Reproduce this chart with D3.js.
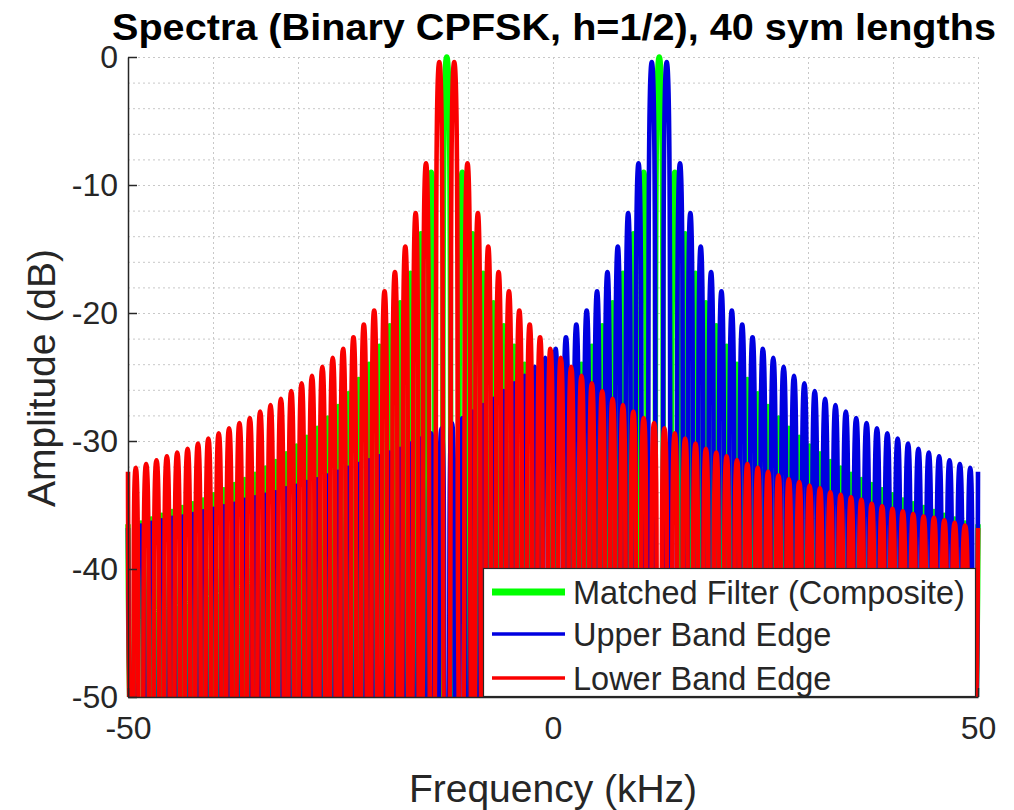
<!DOCTYPE html>
<html><head><meta charset="utf-8">
<script src="https://cdn.jsdelivr.net/npm/d3@7"></script>
<style>
body{margin:0;background:#fff}
text{font-family:"Liberation Sans",Arial,Helvetica,sans-serif}
</style>
</head><body>
<svg id="c" width="1014" height="810"></svg>
<script>
// ---------------- data ----------------
const titleText = "Spectra (Binary CPFSK, h=1/2), 40 sym lengths";
const xLabel = "Frequency (kHz)";
const yLabel = "Amplitude (dB)";
const xTicks = [-50, 0, 50];
const yTicks = [0, -10, -20, -30, -40, -50];
const seriesNames = ["Matched Filter (Composite)", "Upper Band Edge", "Lower Band Edge"];

const lowerTone = -12.5;          // kHz
const upperTone = 12.5;           // kHz
const lobeSpacing = 1.2195;       // kHz between spectral lobes
const nullLevel = -58;            // dB, depth reached between lobes (below the axis)

// Lower band edge (red): lobe positions in lobe units from lowerTone, lobe peak levels (dB)
const redLobes = [-30,-29,-28,-27,-26,-25,-24,-23,-22,-21,-20,-19,-18,-17,-16,-15,-14,-13,-12,-11,-10,-9,-8,-7,-6,-5,-4,-3,-2,
  -0.72,0.72,
  2,3,4,5,6,7,8,9,10,11,12,13,14,15,16,17,18,19,20,21,22,23,24,25,26,27,28,29,30,31,32,33,34,35,36,37,38,39,40,41,42,43,44,45,46,47,48,49,50];
const redPeaks = [-32.1,-31.8,-31.5,-31.2,-30.9,-30.6,-30.2,-29.8,-29.4,-29.0,-28.6,-28.2,-27.7,-27.2,-26.7,-26.1,-25.5,-24.9,-24.2,-23.5,-22.8,-21.9,-20.9,-19.8,-18.3,-16.8,-14.8,-12.2,-8.3,
  -0.4,-0.4,
  -8.3,-12.2,-14.8,-16.8,-18.3,-19.8,-20.9,-21.9,-22.8,-23.5,-24.2,-24.9,-25.5,-26.1,-26.7,-27.2,-27.7,-28.2,-28.6,-29.0,-29.4,-29.8,-30.2,-30.6,-30.9,-31.2,-31.5,-31.8,-32.1,-32.4,-32.7,-33.0,-33.2,-33.5,-33.7,-34.0,-34.2,-34.4,-34.6,-34.9,-35.1,-35.3,-35.5,-35.7,-35.9,-36.0,-36.2,-36.4,-36.6];
const redEdges = [-32.4, -36.8];   // values at -50 and +50 kHz

// Upper band edge (blue): lobe positions in lobe units from upperTone
const blueLobes = [-50,-49,-48,-47,-46,-45,-44,-43,-42,-41,-40,-39,-38,-37,-36,-35,-34,-33,-32,-31,-30,-29,-28,-27,-26,-25,-24,-23,-22,-21,-20,-19,-18,-17,-16,-15,-14,-13,-12,-11,-10,-9,-8,-7,-6,-5,-4,-3,-2,
  -0.72,0.72,
  2,3,4,5,6,7,8,9,10,11,12,13,14,15,16,17,18,19,20,21,22,23,24,25,26,27,28,29,30];
const bluePeaks = [-36.6,-36.4,-36.2,-36.0,-35.9,-35.7,-35.5,-35.3,-35.1,-34.9,-34.6,-34.4,-34.2,-34.0,-33.7,-33.5,-33.2,-33.0,-32.7,-32.4,-32.1,-31.8,-31.5,-31.2,-30.9,-30.6,-30.2,-29.8,-29.4,-29.0,-28.6,-28.2,-27.7,-27.2,-26.7,-26.1,-25.5,-24.9,-24.2,-23.5,-22.8,-21.9,-20.9,-19.8,-18.3,-16.8,-14.8,-12.2,-8.3,
  -0.4,-0.4,
  -8.3,-12.2,-14.8,-16.8,-18.3,-19.8,-20.9,-21.9,-22.8,-23.5,-24.2,-24.9,-25.5,-26.1,-26.7,-27.2,-27.7,-28.2,-28.6,-29.0,-29.4,-29.8,-30.2,-30.6,-30.9,-31.2,-31.5,-31.8,-32.1];
const blueEdges = [-36.8, -32.4];

// Matched filter composite (green): lobes around lowerTone (left half) and upperTone (right half)
const greenLowLobes = [-29.5,-28.5,-27.5,-26.5,-25.5,-24.5,-23.5,-22.5,-21.5,-20.5,-19.5,-18.5,-17.5,-16.5,-15.5,-14.5,-13.5,-12.5,-11.5,-10.5,-9.5,-8.5,-7.5,-6.5,-5.5,-4.5,-3.5,-2.5,-1.5,
  0, 1.5,2.5,3.5,4.5,5.5,6.5,7.5,8.5,9.5];
const greenLowPeaks = [-36.4,-36.1,-35.8,-35.5,-35.2,-34.9,-34.6,-34.2,-33.8,-33.4,-33.0,-32.6,-32.1,-31.6,-31.0,-30.4,-29.7,-29.0,-28.2,-27.3,-26.3,-25.2,-24.0,-22.6,-21.0,-19.2,-16.9,-13.8,-9.0,
  0, -9.0,-13.8,-16.9,-19.2,-21.0,-22.6,-24.0,-25.2,-26.3];
const greenHighLobes = [-9.5,-8.5,-7.5,-6.5,-5.5,-4.5,-3.5,-2.5,-1.5, 0,
  1.5,2.5,3.5,4.5,5.5,6.5,7.5,8.5,9.5,10.5,11.5,12.5,13.5,14.5,15.5,16.5,17.5,18.5,19.5,20.5,21.5,22.5,23.5,24.5,25.5,26.5,27.5,28.5,29.5];
const greenHighPeaks = [-26.3,-25.2,-24.0,-22.6,-21.0,-19.2,-16.9,-13.8,-9.0, 0,
  -9.0,-13.8,-16.9,-19.2,-21.0,-22.6,-24.0,-25.2,-26.3,-27.3,-28.2,-29.0,-29.7,-30.4,-31.0,-31.6,-32.1,-32.6,-33.0,-33.4,-33.8,-34.2,-34.6,-34.9,-35.2,-35.5,-35.8,-36.1,-36.4];
const greenEdges = [-36.5, -36.5];

// ---------------- layout ----------------
const plot = {left: 128, right: 978, top: 57, bottom: 697};
const x = d3.scaleLinear().domain([-50, 50]).range([plot.left, plot.right]);
const y = d3.scaleLinear().domain([-50, 0]).range([plot.bottom, plot.top]);
const svg = d3.select("#c");

// peaks (from the arrays) with a null between each pair of neighbouring lobes
function buildSeries(groups, edges) {
  let pts = [];
  groups.forEach(g => {
    const n = Math.min(g.lobes.length, g.peaks.length);
    for (let i = 0; i < n; i++) {
      const f = g.tone + g.lobes[i] * lobeSpacing;
      if (f > g.from && f < g.to) pts.push({f: f, v: g.peaks[i]});
    }
  });
  pts = pts.filter(p => p.f > -50 && p.f < 50).sort((a, b) => a.f - b.f);
  pts.unshift({f: -50, v: edges[0]});
  pts.push({f: 50, v: edges[1]});
  const out = [];
  for (let i = 0; i < pts.length; i++) {
    out.push(pts[i]);
    if (i < pts.length - 1) out.push({f: (pts[i].f + pts[i + 1].f) / 2, v: nullLevel});
  }
  return out;
}

const redSeries = buildSeries([{tone: lowerTone, lobes: redLobes, peaks: redPeaks, from: -50, to: 50}], redEdges);
const blueSeries = buildSeries([{tone: upperTone, lobes: blueLobes, peaks: bluePeaks, from: -50, to: 50}], blueEdges);
const greenSeries = buildSeries([
  {tone: lowerTone, lobes: greenLowLobes, peaks: greenLowPeaks, from: -50, to: 0},
  {tone: upperTone, lobes: greenHighLobes, peaks: greenHighPeaks, from: 0, to: 50}
], greenEdges);

// ---------------- grid ----------------
const grid = svg.append("g").attr("stroke", "#c8c8c8").attr("stroke-width", 1).attr("stroke-dasharray", "2,3");
grid.selectAll("line.h").data(d3.range(-48, 1, 2)).join("line")
  .attr("x1", plot.left).attr("x2", plot.right)
  .attr("y1", d => y(d) + 0.5).attr("y2", d => y(d) + 0.5);
grid.selectAll("line.v").data(d3.range(-40, 51, 10)).join("line")
  .attr("y1", plot.top).attr("y2", plot.bottom)
  .attr("x1", d => x(d) + 0.5).attr("x2", d => x(d) + 0.5);

// ---------------- series ----------------
svg.append("defs").append("clipPath").attr("id", "clip")
  .append("rect").attr("x", plot.left - 3).attr("y", plot.top - 4)
  .attr("width", plot.right - plot.left + 6).attr("height", plot.bottom - plot.top + 4);

const line = d3.line().x(d => x(d.f)).y(d => y(d.v)).curve(d3.curveCardinal.tension(-1.6));
const plotG = svg.append("g").attr("clip-path", "url(#clip)");
plotG.append("path").datum(greenSeries).attr("d", line)
  .attr("fill", "none").attr("stroke", "#00ff00").attr("stroke-width", 5.5).attr("stroke-linejoin", "round");
plotG.append("path").datum(blueSeries).attr("d", line)
  .attr("fill", "none").attr("stroke", "#0000e0").attr("stroke-width", 4.6).attr("stroke-linejoin", "round");
plotG.append("path").datum(redSeries).attr("d", line)
  .attr("fill", "none").attr("stroke", "#fa0000").attr("stroke-width", 4.6).attr("stroke-linejoin", "round");

// ---------------- axes ----------------
const fmt = d => String(d);
const xAxis = svg.append("g").attr("transform", `translate(0,${plot.bottom})`)
  .call(d3.axisBottom(x).tickValues(xTicks).tickFormat(fmt).tickSizeInner(-9).tickSizeOuter(0).tickPadding(19));
const yAxis = svg.append("g").attr("transform", `translate(${plot.left},0)`)
  .call(d3.axisLeft(y).tickValues(yTicks).tickFormat(fmt).tickSizeInner(-9).tickSizeOuter(0).tickPadding(10));
[xAxis, yAxis].forEach(a => {
  a.select(".domain").attr("stroke", "#262626").attr("stroke-width", 1.5);
  a.selectAll(".tick line").attr("stroke", "#262626").attr("stroke-width", 1.5);
  a.selectAll(".tick text").attr("font-size", 32).attr("fill", "#262626")
    .attr("font-family", '"Liberation Sans",Arial,sans-serif');
});
xAxis.selectAll(".tick text").attr("dy", "0.71em");

// labels
svg.append("text").attr("x", 553).attr("y", 802)
  .attr("text-anchor", "middle").attr("font-size", 39).attr("fill", "#262626").text(xLabel);
svg.append("text").attr("transform", `translate(55,${(plot.top + plot.bottom) / 2 + 1}) rotate(-90)`)
  .attr("text-anchor", "middle").attr("font-size", 39).attr("fill", "#262626").text(yLabel);
svg.append("text").attr("x", 554).attr("y", 40)
  .attr("text-anchor", "middle").attr("font-size", 37).attr("font-weight", "bold")
  .attr("fill", "#000").attr("textLength", 884).attr("lengthAdjust", "spacingAndGlyphs").text(titleText);

// ---------------- legend ----------------
const lg = svg.append("g");
lg.append("rect").attr("x", 483.5).attr("y", 568.5).attr("width", 492).attr("height", 128)
  .attr("fill", "#fff").attr("stroke", "#262626").attr("stroke-width", 1.2);
const legendColors = ["#00ff00", "#0000e0", "#fa0000"];
const legendWidths = [7, 3.5, 3.5];
const legendRows = [592, 634, 678];
seriesNames.forEach((name, i) => {
  lg.append("line").attr("x1", 492).attr("x2", 565).attr("y1", legendRows[i]).attr("y2", legendRows[i])
    .attr("stroke", legendColors[i]).attr("stroke-width", legendWidths[i]);
  lg.append("text").attr("x", 573).attr("y", legendRows[i]).attr("dy", "0.36em")
    .attr("font-size", 32.5).attr("fill", "#262626").text(name);
});
</script>
</body></html>
